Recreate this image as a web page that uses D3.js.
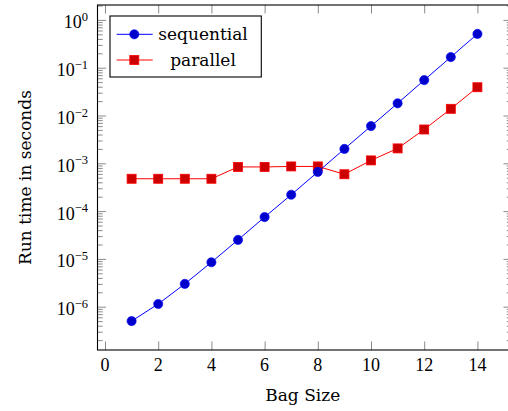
<!DOCTYPE html>
<html>
<head>
<meta charset="utf-8">
<script src="https://cdn.jsdelivr.net/npm/d3@7"></script>
<style>
  body { margin: 0; background: #fff; }
  .tick line { stroke: #8a8a8a; stroke-width: 1; }
  .num { font-family: "Liberation Serif", serif; fill: #000; }
  .word { font-family: "DejaVu Serif", serif; fill: #000; }
</style>
</head>
<body>
<script>
(function(){
// data
var bagSize = [1, 2, 3, 4, 5, 6, 7, 8, 9, 10, 11, 12, 13, 14];
var sequential = [5.0e-7, 1.14e-6, 3.0e-6, 8.5e-6, 2.5e-5, 7.5e-5, 2.2e-4, 6.6e-4, 2.0e-3, 6.0e-3, 1.8e-2, 5.5e-2, 0.167, 0.51];
var parallel = [4.75e-4, 4.75e-4, 4.75e-4, 4.75e-4, 8.4e-4, 8.4e-4, 8.6e-4, 8.6e-4, 5.9e-4, 1.15e-3, 2.05e-3, 5.1e-3, 1.38e-2, 3.9e-2];
var xTicks = [0, 2, 4, 6, 8, 10, 12, 14];
var yExponents = [-6, -5, -4, -3, -2, -1, 0];

var width = 508, height = 411;
var left = 97.5, right = 512, top = 5, bottom = 350;

var x = d3.scaleLinear()
    .domain([-0.282, 15.3])
    .range([left, right]);

var y = d3.scaleLog()
    .domain([Math.pow(10, -6.906), Math.pow(10, 0.312)])
    .range([bottom, top]);

var majors = yExponents.map(function(e) { return Math.pow(10, e); });
var minors = [];
for (var e = -7; e <= 0; e++) {
  for (var m = 2; m <= 9; m++) {
    var v = m * Math.pow(10, e);
    if (v >= y.domain()[0] && v <= y.domain()[1]) minors.push(v);
  }
}

var svg = d3.select("body").append("svg")
    .attr("width", width)
    .attr("height", height);

// ticks, drawn inside on all four sides
function plain(axis) { return axis.tickFormat("").tickSizeOuter(0); }

svg.append("g").attr("transform", "translate(0," + bottom + ")")
    .call(plain(d3.axisBottom(x).tickValues(xTicks).tickSizeInner(-8.5)));
svg.append("g").attr("transform", "translate(0," + top + ")")
    .call(plain(d3.axisTop(x).tickValues(xTicks).tickSizeInner(-8.5)));
svg.append("g").attr("transform", "translate(" + left + ",0)")
    .call(plain(d3.axisLeft(y).tickValues(majors).tickSizeInner(-8.5)));
svg.append("g").attr("transform", "translate(" + left + ",0)")
    .call(plain(d3.axisLeft(y).tickValues(minors).tickSizeInner(-5.2)));
svg.append("g").attr("transform", "translate(" + right + ",0)")
    .call(plain(d3.axisRight(y).tickValues(majors).tickSizeInner(-8.5)));
svg.append("g").attr("transform", "translate(" + right + ",0)")
    .call(plain(d3.axisRight(y).tickValues(minors).tickSizeInner(-5.2)));
svg.selectAll(".domain").remove();

svg.append("rect")
    .attr("x", left).attr("y", top)
    .attr("width", right - left).attr("height", bottom - top)
    .attr("fill", "none").attr("stroke", "#000").attr("stroke-width", 1.1);

// tick labels
svg.selectAll(".xlab")
    .data(xTicks)
  .enter().append("text")
    .attr("class", "num")
    .attr("x", function(d) { return x(d); })
    .attr("y", bottom + 21)
    .attr("text-anchor", "middle")
    .style("font-size", "18px")
    .text(function(d) { return d; });

var ylab = svg.selectAll(".ylab")
    .data(yExponents)
  .enter().append("text")
    .attr("class", "num")
    .attr("x", left - 9.5)
    .attr("y", function(d) { return y(Math.pow(10, d)) + 8.5; })
    .attr("text-anchor", "end")
    .style("font-size", "18px");
ylab.append("tspan").text("10");
ylab.append("tspan")
    .attr("dy", -7.5)
    .style("font-size", "12.5px")
    .text(function(d) { return d < 0 ? "\u2212" + (-d) : d; });

// axis titles
svg.append("text")
    .attr("class", "word")
    .attr("x", (left + right) / 2 - 2)
    .attr("y", 401)
    .attr("text-anchor", "middle")
    .style("font-size", "17px")
    .text("Bag Size");

svg.append("text")
    .attr("class", "word")
    .attr("transform", "translate(31," + (top + bottom) / 2 + ") rotate(-90)")
    .attr("text-anchor", "middle")
    .style("font-size", "17px")
    .text("Run time in seconds");

// series
var line = d3.line()
    .x(function(d) { return x(d[0]); })
    .y(function(d) { return y(d[1]); });

var seqPts = bagSize.map(function(b, i) { return [b, sequential[i]]; });
var parPts = bagSize.map(function(b, i) { return [b, parallel[i]]; });

svg.append("path")
    .datum(parPts)
    .attr("d", line)
    .attr("fill", "none")
    .attr("stroke", "#ff0000")
    .attr("stroke-width", 1);

svg.selectAll(".sq")
    .data(parPts)
  .enter().append("rect")
    .attr("x", function(d) { return x(d[0]) - 4.5; })
    .attr("y", function(d) { return y(d[1]) - 4.5; })
    .attr("width", 9).attr("height", 9)
    .attr("fill", "#cc0000")
    .attr("stroke", "#ff0000")
    .attr("stroke-width", 0.8);

svg.append("path")
    .datum(seqPts)
    .attr("d", line)
    .attr("fill", "none")
    .attr("stroke", "#0000ff")
    .attr("stroke-width", 1);

svg.selectAll(".dot")
    .data(seqPts)
  .enter().append("circle")
    .attr("cx", function(d) { return x(d[0]); })
    .attr("cy", function(d) { return y(d[1]); })
    .attr("r", 4.6)
    .attr("fill", "#0000cc")
    .attr("stroke", "#0000ff")
    .attr("stroke-width", 0.6);

// legend
var legend = svg.append("g");
legend.append("rect")
    .attr("x", 110).attr("y", 16)
    .attr("width", 151.3).attr("height", 61)
    .attr("fill", "#fff").attr("stroke", "#000").attr("stroke-width", 1.1);

var entries = [
  {name: "sequential", color: "#0000ff", fill: "#0000cc", shape: "circle", y: 34.3},
  {name: "parallel", color: "#ff0000", fill: "#cc0000", shape: "square", y: 60}
];

entries.forEach(function(d) {
  legend.append("line")
      .attr("x1", 116.7).attr("x2", 152.7)
      .attr("y1", d.y).attr("y2", d.y)
      .attr("stroke", d.color).attr("stroke-width", 1);
  if (d.shape === "circle") {
    legend.append("circle")
        .attr("cx", 134.3).attr("cy", d.y).attr("r", 4.6)
        .attr("fill", d.fill).attr("stroke", d.color).attr("stroke-width", 0.6);
  } else {
    legend.append("rect")
        .attr("x", 134.3 - 4.5).attr("y", d.y - 4.5)
        .attr("width", 9).attr("height", 9)
        .attr("fill", d.fill).attr("stroke", d.color).attr("stroke-width", 0.8);
  }
  legend.append("text")
      .attr("class", "word")
      .attr("x", 203)
      .attr("y", d.y + 5.5)
      .attr("text-anchor", "middle")
      .style("font-size", "17px")
      .text(d.name);
});
})();
</script>
</body>
</html>
